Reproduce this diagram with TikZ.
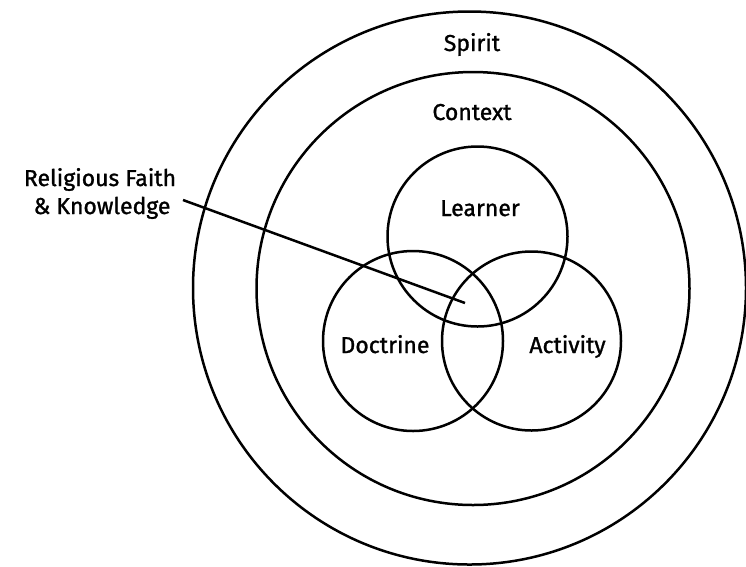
\documentclass[tikz,border=0pt]{standalone}
\usepackage{fontspec}
\setmainfont{Fira Sans}[FakeBold=1.2]
\begin{document}
\begin{tikzpicture}[x=1pt,y=-1pt,
  ring/.style={draw=black,line width=2.5pt},
  lbl/.style={anchor=base,inner sep=0pt,font=\fontsize{23}{28}\selectfont},
  pointer/.style={draw=black,line width=2.5pt}]
  \useasboundingbox (0,0) rectangle (746,566);
  % nested rings
  \draw[ring] (469.5,288) circle (276.5);
  \draw[ring] (473,288.5) circle (216.5);
  % three overlapping circles
  \draw[ring] (477.5,236.5) circle (90);
  \draw[ring] (413,341) circle (90);
  \draw[ring] (531.5,341) circle (89.5);
  % labels
  \node[lbl] (spirit) at (472,51) {Spirit};
  \node[lbl] (context) at (472,120) {Context};
  \node[lbl] (learner) at (480,216) {Learner};
  \node[lbl] (doctrine) at (385,353) {Doctrine};
  \node[lbl] (activity) at (567.5,353) {Activity};
  \node[lbl] (faith1) at (100,186) {Religious Faith};
  \node[lbl] (faith2) at (102,214) {\& Knowledge};
  % pointer into the common overlap
  \coordinate (ptrstart) at (183,200);
  \coordinate (ptrend) at (465,303);
  \draw[pointer] (ptrstart) -- (ptrend);
\end{tikzpicture}
\end{document}
